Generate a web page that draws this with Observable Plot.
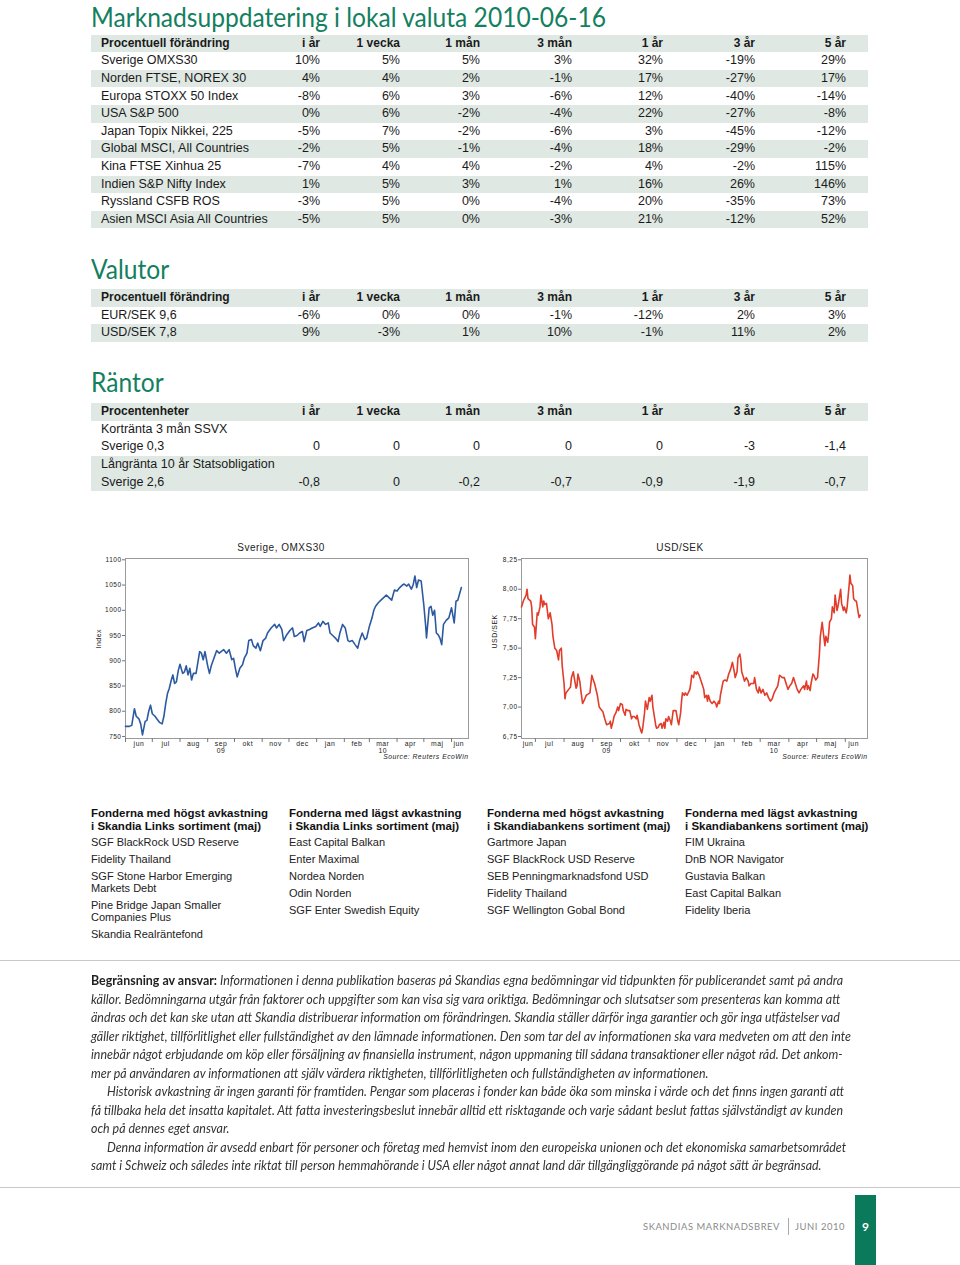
<!DOCTYPE html>
<html><head><meta charset="utf-8">
<script src="https://cdn.jsdelivr.net/npm/d3@7"></script>
<script src="https://cdn.jsdelivr.net/npm/@observablehq/plot@0.6"></script>
<style>
html,body{margin:0;padding:0;background:#fff;}
#page{position:relative;width:960px;height:1265px;overflow:hidden;background:#fff;font-family:"Liberation Sans",Arial,sans-serif;color:#1a1a1a;}
.abs{position:absolute;white-space:nowrap;}
.h1{font-family:Lato,"Open Sans",sans-serif;font-size:27px;line-height:27px;color:#13805f;transform-origin:0 0;}
.row{position:absolute;left:91px;width:777px;height:17.6px;}
.row.shade{background:#dfe8e3;}
.cell{position:absolute;top:0;line-height:17.6px;font-size:12.5px;white-space:nowrap;color:#1a1a1a;}
.row.head .cell{font-weight:bold;font-size:12px;}
.ctitle{position:absolute;font-family:"Liberation Sans",Arial,sans-serif;font-size:10px;letter-spacing:0.5px;color:#222;transform:translateX(-50%);white-space:nowrap;}
.fund{position:absolute;width:195px;}
.fund .hd{font-weight:bold;font-size:11.5px;line-height:13px;white-space:pre;color:#111;}
.fund .it{font-size:11px;line-height:11.7px;margin-top:5.3px;white-space:pre;color:#222;}
.fund .it.first{margin-top:4.7px;}
.hr{position:absolute;left:0;width:960px;height:1px;background:#c8c8c8;}
#disc{position:absolute;left:91px;top:0;transform-origin:0 0;font-family:Lato,"Liberation Sans",sans-serif;font-style:italic;font-size:12.5px;color:#333;}
#disc .ln{position:absolute;left:0;white-space:nowrap;line-height:18.5px;}
#disc b{font-style:normal;font-weight:bold;color:#222;}
.chart{position:absolute;}
</style></head><body><div id="page"></div>
<script>
// ---------------- DATA ----------------
const pageTitle = "Marknadsuppdatering i lokal valuta 2010-06-16";
const periods = ["i år","1 vecka","1 mån","3 mån","1 år","3 år","5 år"];

const marketNames = ["Sverige OMXS30","Norden FTSE, NOREX 30","Europa STOXX 50 Index","USA S&P 500","Japan Topix Nikkei, 225","Global MSCI, All Countries","Kina FTSE Xinhua 25","Indien S&P Nifty Index","Ryssland CSFB ROS","Asien MSCI Asia All Countries"];
const marketChanges = [
  [10,5,5,3,32,-19,29],
  [4,4,2,-1,17,-27,17],
  [-8,6,3,-6,12,-40,-14],
  [0,6,-2,-4,22,-27,-8],
  [-5,7,-2,-6,3,-45,-12],
  [-2,5,-1,-4,18,-29,-2],
  [-7,4,4,-2,4,-2,115],
  [1,5,3,1,16,26,146],
  [-3,5,0,-4,20,-35,73],
  [-5,5,0,-3,21,-12,52]
];

const currencyNames = ["EUR/SEK 9,6","USD/SEK 7,8"];
const currencyChanges = [
  [-6,0,0,-1,-12,2,3],
  [9,-3,1,10,-1,11,2]
];

const rateNames = ["Kortränta 3 mån SSVX","Sverige 0,3","Långränta 10 år Statsobligation","Sverige 2,6"];
const rateChanges = [null,[0,0,0,0,0,-3,-1.4],null,[-0.8,0,-0.2,-0.7,-0.9,-1.9,-0.7]];

const svMonths = ["jan","feb","mar","apr","maj","jun","jul","aug","sep","okt","nov","dec"];
const monthTicks = ["2009-06-01","2009-07-01","2009-08-01","2009-09-01","2009-10-01","2009-11-01","2009-12-01","2010-01-01","2010-02-01","2010-03-01","2010-04-01","2010-05-01","2010-06-01"];
const omxLabelDates = ["2009-06-16","2009-07-16","2009-08-16","2009-09-16","2009-10-16","2009-11-16","2009-12-16","2010-01-16","2010-02-15","2010-03-16","2010-04-16","2010-05-16","2010-06-09"];
const usdLabelDates = ["2009-06-23","2009-07-16","2009-08-16","2009-09-16","2009-10-16","2009-11-16","2009-12-16","2010-01-16","2010-02-15","2010-03-16","2010-04-16","2010-05-16","2010-06-10"];
const yearLabels = [["2009-09-16","09"],["2010-03-16","10"]];

const omxTicks = [750,800,850,900,950,1000,1050,1100];
const usdTicks = [6.75,7.00,7.25,7.50,7.75,8.00,8.25];

const omxs30 = [
["2009-06-01",770],["2009-06-05",770],["2009-06-08",772],["2009-06-11",805],["2009-06-13",790],["2009-06-16",785],["2009-06-18",775],["2009-06-20",753],["2009-06-23",780],["2009-06-25",782],["2009-06-27",800],["2009-06-29",812],
["2009-07-01",795],["2009-07-04",790],["2009-07-06",785],["2009-07-09",778],["2009-07-12",775],["2009-07-14",790],["2009-07-16",815],["2009-07-18",835],["2009-07-20",845],["2009-07-22",860],["2009-07-24",872],["2009-07-26",855],["2009-07-28",858],["2009-07-30",880],
["2009-08-01",893],["2009-08-04",875],["2009-08-06",878],["2009-08-08",890],["2009-08-10",872],["2009-08-12",885],["2009-08-14",862],["2009-08-16",875],["2009-08-19",875],["2009-08-23",918],["2009-08-25",915],["2009-08-27",902],["2009-08-29",918],
["2009-09-01",890],["2009-09-03",875],["2009-09-05",890],["2009-09-08",905],["2009-09-11",920],["2009-09-14",915],["2009-09-16",918],["2009-09-19",922],["2009-09-22",915],["2009-09-25",922],["2009-09-28",902],["2009-09-30",905],
["2009-10-02",885],["2009-10-04",868],["2009-10-07",885],["2009-10-10",892],["2009-10-12",905],["2009-10-15",915],["2009-10-17",940],["2009-10-20",942],["2009-10-22",930],["2009-10-25",925],["2009-10-27",935],["2009-10-30",920],
["2009-11-02",940],["2009-11-05",945],["2009-11-07",955],["2009-11-11",965],["2009-11-15",972],["2009-11-17",965],["2009-11-20",972],["2009-11-23",962],["2009-11-25",940],["2009-11-28",950],
["2009-12-02",960],["2009-12-05",965],["2009-12-07",948],["2009-12-10",950],["2009-12-13",955],["2009-12-16",958],["2009-12-18",938],["2009-12-21",960],["2009-12-24",962],["2009-12-27",965],["2009-12-31",968],
["2010-01-03",975],["2010-01-05",968],["2010-01-08",978],["2010-01-11",972],["2010-01-14",975],["2010-01-16",955],["2010-01-19",950],["2010-01-22",945],["2010-01-25",938],["2010-01-27",955],["2010-01-30",972],
["2010-02-02",965],["2010-02-05",940],["2010-02-07",938],["2010-02-10",940],["2010-02-13",932],["2010-02-16",925],["2010-02-18",940],["2010-02-21",955],["2010-02-24",942],["2010-02-26",945],
["2010-03-01",968],["2010-03-04",985],["2010-03-06",1000],["2010-03-08",1008],["2010-03-11",1015],["2010-03-14",1020],["2010-03-17",1025],["2010-03-20",1030],["2010-03-23",1025],["2010-03-26",1020],["2010-03-29",1040],
["2010-04-01",1038],["2010-04-04",1045],["2010-04-07",1050],["2010-04-09",1052],["2010-04-12",1048],["2010-04-14",1052],["2010-04-17",1042],["2010-04-19",1050],["2010-04-21",1068],["2010-04-23",1045],["2010-04-25",1060],["2010-04-28",1058],
["2010-05-01",1010],["2010-05-03",970],["2010-05-04",945],["2010-05-07",1005],["2010-05-09",1008],["2010-05-11",990],["2010-05-13",1000],["2010-05-15",955],["2010-05-17",952],["2010-05-19",945],["2010-05-21",932],["2010-05-23",972],["2010-05-26",980],["2010-05-29",985],
["2010-06-01",1005],["2010-06-03",985],["2010-06-04",975],["2010-06-06",1018],["2010-06-08",1020],["2010-06-12",1045]
];

const usdsek = [
["2009-06-16",7.85],["2009-06-18",7.90],["2009-06-21",7.95],["2009-06-22",8.00],["2009-06-23",7.92],["2009-06-26",7.90],["2009-06-27",7.85],["2009-06-28",7.70],["2009-06-30",7.68],
["2009-07-01",7.58],["2009-07-03",7.80],["2009-07-04",7.78],["2009-07-06",7.85],["2009-07-07",7.95],["2009-07-09",7.85],["2009-07-10",7.90],["2009-07-11",7.87],["2009-07-13",7.88],["2009-07-15",7.75],["2009-07-17",7.80],["2009-07-19",7.70],["2009-07-20",7.60],["2009-07-22",7.50],["2009-07-24",7.48],["2009-07-26",7.40],["2009-07-27",7.48],["2009-07-29",7.50],["2009-07-30",7.35],
["2009-08-01",7.20],["2009-08-02",7.07],["2009-08-03",7.12],["2009-08-06",7.15],["2009-08-08",7.17],["2009-08-09",7.25],["2009-08-11",7.30],["2009-08-12",7.25],["2009-08-14",7.16],["2009-08-15",7.18],["2009-08-16",7.28],["2009-08-18",7.22],["2009-08-19",7.15],["2009-08-21",7.03],["2009-08-23",7.06],["2009-08-25",7.10],["2009-08-27",7.11],["2009-08-29",7.12],["2009-08-31",7.27],
["2009-09-02",7.22],["2009-09-03",7.20],["2009-09-06",7.10],["2009-09-08",7.00],["2009-09-10",6.98],["2009-09-12",6.96],["2009-09-14",6.90],["2009-09-16",6.85],["2009-09-19",6.86],["2009-09-20",6.88],["2009-09-21",6.82],["2009-09-23",6.88],["2009-09-24",6.92],["2009-09-26",6.95],["2009-09-28",7.00],["2009-09-29",6.97],
["2009-10-01",7.03],["2009-10-03",7.02],["2009-10-04",6.97],["2009-10-06",6.93],["2009-10-07",6.98],["2009-10-09",6.97],["2009-10-11",6.97],["2009-10-13",6.90],["2009-10-14",6.92],["2009-10-16",6.92],["2009-10-18",6.90],["2009-10-19",6.93],["2009-10-21",6.85],["2009-10-23",6.80],["2009-10-24",6.78],["2009-10-25",6.82],["2009-10-27",6.95],["2009-10-28",7.05],["2009-10-30",6.98],
["2009-11-01",7.08],["2009-11-02",7.05],["2009-11-04",7.10],["2009-11-05",7.00],["2009-11-06",6.95],["2009-11-08",6.85],["2009-11-09",6.82],["2009-11-11",6.83],["2009-11-12",6.85],["2009-11-14",6.86],["2009-11-15",6.82],["2009-11-17",6.87],["2009-11-18",6.82],["2009-11-19",6.90],["2009-11-21",6.88],["2009-11-22",6.92],["2009-11-24",6.88],["2009-11-25",6.85],["2009-11-27",6.97],["2009-11-28",6.97],["2009-11-30",6.97],
["2009-12-02",6.88],["2009-12-03",6.85],["2009-12-05",6.95],["2009-12-06",7.05],["2009-12-07",7.12],["2009-12-09",7.10],["2009-12-10",7.12],["2009-12-12",7.10],["2009-12-15",7.15],["2009-12-16",7.20],["2009-12-17",7.27],["2009-12-19",7.25],["2009-12-20",7.30],["2009-12-22",7.28],["2009-12-23",7.30],["2009-12-25",7.27],["2009-12-28",7.20],["2009-12-30",7.15],["2009-12-31",7.08],
["2010-01-02",7.10],["2010-01-03",7.05],["2010-01-04",7.10],["2010-01-06",7.05],["2010-01-08",7.03],["2010-01-10",7.05],["2010-01-12",7.03],["2010-01-13",7.00],["2010-01-15",7.05],["2010-01-16",7.03],["2010-01-17",7.10],["2010-01-20",7.22],["2010-01-22",7.23],["2010-01-24",7.22],["2010-01-26",7.28],["2010-01-28",7.32],["2010-01-30",7.38],
["2010-02-01",7.30],["2010-02-02",7.25],["2010-02-04",7.30],["2010-02-05",7.42],["2010-02-07",7.45],["2010-02-08",7.40],["2010-02-09",7.30],["2010-02-11",7.25],["2010-02-12",7.22],["2010-02-14",7.25],["2010-02-16",7.22],["2010-02-17",7.18],["2010-02-19",7.20],["2010-02-22",7.20],["2010-02-23",7.25],["2010-02-25",7.15],["2010-02-27",7.12],["2010-02-28",7.17],
["2010-03-02",7.12],["2010-03-04",7.15],["2010-03-06",7.10],["2010-03-08",7.12],["2010-03-10",7.08],["2010-03-12",7.05],["2010-03-14",7.07],["2010-03-16",7.12],["2010-03-18",7.15],["2010-03-20",7.18],["2010-03-22",7.27],["2010-03-25",7.25],["2010-03-27",7.25],["2010-03-29",7.20],["2010-03-31",7.15],
["2010-04-02",7.18],["2010-04-04",7.20],["2010-04-06",7.25],["2010-04-08",7.20],["2010-04-10",7.15],["2010-04-12",7.12],["2010-04-14",7.15],["2010-04-17",7.18],["2010-04-18",7.15],["2010-04-20",7.22],["2010-04-21",7.15],["2010-04-22",7.18],["2010-04-24",7.14],["2010-04-25",7.20],["2010-04-27",7.28],["2010-04-28",7.27],["2010-04-30",7.23],
["2010-05-02",7.25],["2010-05-04",7.45],["2010-05-05",7.60],["2010-05-07",7.72],["2010-05-08",7.65],["2010-05-10",7.52],["2010-05-11",7.60],["2010-05-13",7.55],["2010-05-14",7.62],["2010-05-15",7.72],["2010-05-17",7.75],["2010-05-18",7.85],["2010-05-20",7.80],["2010-05-21",7.95],["2010-05-23",7.82],["2010-05-24",7.85],["2010-05-25",7.90],["2010-05-27",8.00],["2010-05-28",7.88],["2010-05-30",7.82],["2010-05-31",7.85],
["2010-06-02",7.80],["2010-06-03",7.85],["2010-06-05",8.02],["2010-06-06",8.12],["2010-06-07",8.05],["2010-06-09",8.03],["2010-06-10",7.92],["2010-06-12",7.90],["2010-06-13",7.90],["2010-06-15",7.80],["2010-06-16",7.76],["2010-06-17",7.78]
];

const fundHeadings = [
  "Fonderna med högst avkastning\ni Skandia Links sortiment (maj)",
  "Fonderna med lägst avkastning\ni Skandia Links sortiment (maj)",
  "Fonderna med högst avkastning\ni Skandiabankens sortiment (maj)",
  "Fonderna med lägst avkastning\ni Skandiabankens sortiment (maj)"
];
const fundLists = [
  ["SGF BlackRock USD Reserve","Fidelity Thailand","SGF Stone Harbor Emerging\nMarkets Debt","Pine Bridge Japan Smaller\nCompanies Plus","Skandia Realräntefond"],
  ["East Capital Balkan","Enter Maximal","Nordea Norden","Odin Norden","SGF Enter Swedish Equity"],
  ["Gartmore Japan","SGF BlackRock USD Reserve","SEB Penningmarknadsfond USD","Fidelity Thailand","SGF Wellington Gobal Bond"],
  ["FIM Ukraina","DnB NOR Navigator","Gustavia Balkan","East Capital Balkan","Fidelity Iberia"]
];

const disclaimerLead = "Begränsning av ansvar:";
const disclaimerLines = [
  " Informationen i denna publikation baseras på Skandias egna bedömningar vid tidpunkten för publicerandet samt på andra",
  "källor. Bedömningarna utgår från faktorer och uppgifter som kan visa sig vara oriktiga. Bedömningar och slutsatser som presenteras kan komma att",
  "ändras och det kan ske utan att Skandia distribuerar information om förändringen. Skandia ställer därför inga garantier och gör inga utfästelser vad",
  "gäller riktighet, tillförlitlighet eller fullständighet av den lämnade informationen. Den som tar del av informationen ska vara medveten om att den inte",
  "innebär något erbjudande om köp eller försäljning av finansiella instrument, någon uppmaning till sådana transaktioner eller något råd. Det ankom-",
  "mer på användaren av informationen att själv värdera riktigheten, tillförlitligheten och fullständigheten av informationen.",
  "Historisk avkastning är ingen garanti för framtiden. Pengar som placeras i fonder kan både öka som minska i värde och det finns ingen garanti att",
  "få tillbaka hela det insatta kapitalet. Att fatta investeringsbeslut innebär alltid ett risktagande och varje sådant beslut fattas självständigt av kunden",
  "och på dennes eget ansvar.",
  "Denna information är avsedd enbart för personer och företag med hemvist inom den europeiska unionen och det ekonomiska samarbetsområdet",
  "samt i Schweiz och således inte riktat till person hemmahörande i USA eller något annat land där tillgängliggörande på något sätt är begränsad."
];
const indentedLines = [6, 9];

const footerLeft = "SKANDIAS MARKNADSBREV";
const footerRight = "JUNI 2010";
const pageNumber = "9";

// ---------------- LAYOUT ----------------
const page = document.getElementById("page");
function el(tag, cls, css, text) {
  const e = document.createElement(tag);
  if (cls) e.className = cls;
  if (css) Object.assign(e.style, css);
  if (text != null) e.textContent = text;
  page.appendChild(e);
  return e;
}

// Headings
const titleEl = el("div", "abs h1", {left: "91px", top: "0px", lineHeight: "33px"}, pageTitle);
const valEl = el("div", "abs h1", {left: "91px", top: "255px"}, "Valutor");
const ranEl = el("div", "abs h1", {left: "91px", top: "368px"}, "Räntor");
const tScale = 515 / titleEl.getBoundingClientRect().width;
[titleEl, valEl, ranEl].forEach(e => e.style.transform = `scaleX(${tScale})`);

// Tables
const colRight = [320, 400, 480, 572, 663, 755, 846];
const rowH = 17.6;
function table(top, headLabel, names, values, shade, fmt) {
  const rows = [[headLabel, periods, true]].concat(names.map((n, i) => [n, values[i] ? values[i].map(fmt) : null, false]));
  rows.forEach(([label, vals, isHead], i) => {
    const r = el("div", "row" + (shade[i] ? " shade" : "") + (isHead ? " head" : ""), {top: (top + i * rowH) + "px"});
    const c = document.createElement("div"); c.className = "cell"; c.style.left = "10px"; c.textContent = label; r.appendChild(c);
    if (vals) vals.forEach((v, j) => {
      const d = document.createElement("div"); d.className = "cell"; d.style.right = (868 - colRight[j]) + "px"; d.textContent = v; r.appendChild(d);
    });
  });
}
const pct = v => v + "%";
const dec = v => String(v).replace(".", ",");
table(34.7, "Procentuell förändring", marketNames, marketChanges, [1,0,1,0,1,0,1,0,1,0,1], pct);
table(289.2, "Procentuell förändring", currencyNames, currencyChanges, [1,0,1], pct);
table(403.2, "Procentenheter", rateNames, rateChanges, [1,0,0,1,1], dec);

// Charts
function lineChart({data, color, xDomain, yDomain, yTicks, yFormat, yLabel, labelDates, width, marginLeft, marginRight}) {
  const [d0, d1] = xDomain.map(d => new Date(d));
  const ticks = monthTicks.map(d => new Date(d)).filter(d => d >= d0 && d <= d1);
  return Plot.plot({
    width, height: 225, marginLeft, marginRight, marginTop: 18, marginBottom: 27,
    style: {fontFamily: "Liberation Sans, Arial, sans-serif", fontSize: "6.5px", letterSpacing: "0.5px", color: "#222", background: "transparent", overflow: "visible"},
    x: {type: "utc", domain: [d0, d1]},
    y: {domain: yDomain},
    marks: [
      Plot.frame({stroke: "#9a9a9a", strokeWidth: 1}),
      Plot.axisY({ticks: yTicks, tickSize: 3, tickPadding: 1, tickFormat: yFormat, label: null, stroke: "#777"}),
      Plot.axisX({ticks, tickSize: 4, tickFormat: () => "", label: null, stroke: "#777"}),
      Plot.axisX({ticks: labelDates.map(d => new Date(d)), tickSize: 0, tickPadding: 3, tickFormat: d => svMonths[d.getUTCMonth()], label: null, fontSize: 6.8}),
      Plot.text(yearLabels, {x: d => new Date(d[0]), text: d => d[1], frameAnchor: "bottom", lineAnchor: "top", dy: 10, fontSize: 6.8}),
      Plot.text([yLabel], {frameAnchor: "left", dx: -27, rotate: -90, fontSize: 7}),
      Plot.text(["Source: Reuters EcoWin"], {frameAnchor: "bottom-right", lineAnchor: "top", dy: 16, fontStyle: "italic", fontSize: 6.8}),
      Plot.line(data, {x: d => new Date(d[0]), y: d => d[1], stroke: color, strokeWidth: 1.6})
    ]
  });
}

const left = lineChart({data: omxs30, color: "#2c5aa0", xDomain: ["2009-06-01","2010-06-20"], yDomain: [746, 1102.6], yTicks: omxTicks, yFormat: d => String(d), yLabel: "Index", labelDates: omxLabelDates, width: 390, marginLeft: 40, marginRight: 7});
left.classList.add("chart"); left.style.left = "85px"; left.style.top = "540px"; page.appendChild(left);
const right = lineChart({data: usdsek, color: "#e23c2a", xDomain: ["2009-06-16","2010-06-25"], yDomain: [6.733, 8.261], yTicks: usdTicks, yFormat: d => d.toFixed(2).replace(".", ","), yLabel: "USD/SEK", labelDates: usdLabelDates, width: 395, marginLeft: 41, marginRight: 8});
right.classList.add("chart"); right.style.left = "480px"; right.style.top = "540px"; page.appendChild(right);

el("div", "ctitle", {left: "281px", top: "542px"}, "Sverige, OMXS30");
el("div", "ctitle", {left: "680px", top: "542px"}, "USD/SEK");

// Fund lists
const fundX = [91, 289, 487, 685];
fundHeadings.forEach((h, i) => {
  const box = el("div", "fund", {left: fundX[i] + "px", top: "806.5px"});
  const hd = document.createElement("div"); hd.className = "hd"; hd.textContent = h; box.appendChild(hd);
  fundLists[i].forEach((f, j) => {
    const it = document.createElement("div"); it.className = "it" + (j === 0 ? " first" : ""); it.textContent = f; box.appendChild(it);
  });
});

// Rules
el("div", "hr", {top: "960px"});
el("div", "hr", {top: "1187px"});

// Disclaimer
const disc = el("div", null, null); disc.id = "disc";
disclaimerLines.forEach((t, i) => {
  const ln = document.createElement("div"); ln.className = "ln";
  ln.style.top = (972 + i * 18.5) + "px";
  if (indentedLines.includes(i)) ln.style.left = "16px";
  if (i === 0) { const b = document.createElement("b"); b.textContent = disclaimerLead; ln.appendChild(b); }
  ln.appendChild(document.createTextNode(t));
  disc.appendChild(ln);
});
const firstW = disc.firstChild.getBoundingClientRect().width;
disc.style.transform = `scaleX(${752 / firstW})`;

// Footer
const fl = el("div", "abs", {left: "643px", top: "1220px", fontFamily: "Lato, sans-serif", fontSize: "10px", letterSpacing: "0.6px", color: "#8a8a8a"}, footerLeft);
const fr = el("div", "abs", {left: "795px", top: "1220px", fontFamily: "Lato, sans-serif", fontSize: "10px", letterSpacing: "0.6px", color: "#8a8a8a"}, footerRight);
fl.style.transform = `scaleX(${137 / fl.getBoundingClientRect().width})`; fl.style.transformOrigin = "0 0";
fr.style.transform = `scaleX(${50 / fr.getBoundingClientRect().width})`; fr.style.transformOrigin = "0 0";
el("div", "abs", {left: "788px", top: "1218px", width: "1px", height: "17px", background: "#aaa"});
el("div", "abs", {left: "855px", top: "1195px", width: "21px", height: "70px", background: "#0b7a5b"});
el("div", "abs", {left: "855px", top: "1219px", width: "21px", textAlign: "center", fontFamily: "Lato, sans-serif", fontWeight: "bold", fontSize: "12px", color: "#fff"}, pageNumber);
</script></body></html>
